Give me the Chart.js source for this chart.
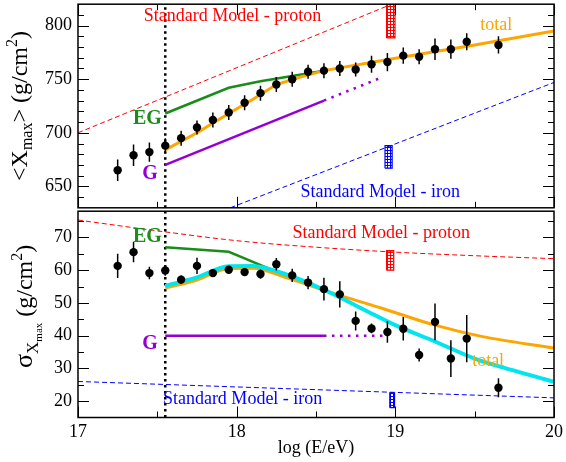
<!DOCTYPE html>
<html>
<head>
<meta charset="utf-8">
<script src="https://cdn.jsdelivr.net/npm/chart.js@4.4.1/dist/chart.umd.min.js"></script>
<style>
  html, body { margin: 0; padding: 0; background: #fff; }
  #wrap { position: relative; width: 566px; height: 462px; overflow: hidden; }
  canvas { position: absolute; left: 0; }
  #cTop { top: 0; }
  #cBot { top: 207px; }
</style>
</head>
<body>
<div id="wrap">
  <canvas id="cTop" width="566" height="212"></canvas>
  <canvas id="cBot" width="566" height="255"></canvas>
</div>
<script>
const FONT = '"Liberation Serif", "Times New Roman", serif';
const RED = "#ff0000", BLUE = "#0000ff", GREEN = "#1a8c1a", ORANGE = "#ffa500";
const CYAN = "#00e5ee", PURPLE = "#9400d3";

// =============================
// DATA
// =============================

// energy bins, log(E/eV)
const binsX = [17.25, 17.35, 17.45, 17.55, 17.65, 17.75, 17.85, 17.95, 18.05, 18.15, 18.25, 18.35,
               18.45, 18.55, 18.65, 18.75, 18.85, 18.95, 19.05, 19.15, 19.25, 19.35, 19.45, 19.65];

// <Xmax> measurements (g/cm2)
const xmaxMean = [665, 679, 682, 688, 695, 705, 712, 719, 728, 737, 745, 750,
                  757, 758, 760, 759, 764, 766, 772, 771, 778, 778, 785, 782];
const xmaxErr  = [10, 10, 9, 7, 7, 6.5, 7, 7, 7, 7, 7, 7,
                  6.5, 7, 7, 6.5, 8, 8.5, 7.5, 7, 10, 9, 8, 8];

// sigma(Xmax) measurements (g/cm2)
const sigmaMean = [61.3, 65.5, 59.1, 59.9, 57.1, 61.3, 59.1, 60.1, 59.4, 58.8, 61.8, 58.4,
                   56.2, 54.2, 52.6, 44.5, 42.2, 41.1, 42.1, 34.1, 44.2, 33.0, 39.1, 24.1];
const sigmaErr  = [3.7, 3.1, 1.9, 1.6, 1.3, 2.5, 1, 1, 1, 1.4, 1.9, 2,
                   2, 3.5, 4, 2.9, 1.5, 3.3, 3.6, 2, 5.6, 5.6, 7.2, 2.9];

// model curves, top panel
const protonTopX = [17, 19.0],  protonTopY = [700, 821.4];
const ironTopX = [17.96, 20],   ironTopY = [630, 747];
const egTopX = [17.55, 17.95, 18.15, 18.35, 18.55];
const egTopY = [718, 742, 748, 753, 758];
const totalTopX = [17.55, 17.75, 17.95, 18.1, 18.25, 18.4, 18.55, 19, 19.5, 20];
const totalTopY = [684, 700, 718, 731, 745, 752, 758, 769.5, 782, 795];
const gTopX = [17.55, 18.55],    gTopY = [670, 730];
const gTopDotX = [18.55, 18.92], gTopDotY = [730, 752];

// model curves, bottom panel
const protonBotX = [17, 17.5, 18, 18.5, 19, 19.5, 20];
const protonBotY = [75.3, 72, 69, 67, 65.5, 64.4, 63.5];
const ironBotX = [17, 20], ironBotY = [26, 21];
const egBotX = [17.55, 17.95, 18.05, 18.2, 18.3];
const egBotY = [67, 65.6, 63.6, 60.5, 58.8];
const cyanBotX = [17.55, 17.75, 17.95, 18.1, 18.3, 18.55, 18.8, 19, 19.25, 19.5, 19.75, 20];
const cyanBotY = [55.2, 57.8, 61.2, 61.3, 58.9, 54, 48, 43.2, 38.2, 33, 29.3, 25.9];
const totalBotX = [17.55, 17.75, 17.95, 18.1, 18.3, 18.65, 18.92, 19.25, 19.55, 20];
const totalBotY = [54.5, 57, 60.5, 60.6, 57.9, 52.3, 48.3, 43.2, 39.7, 36.2];
const gBotX = [17.55, 18.55],    gBotY = [40, 40];
const gBotDotX = [18.55, 18.92], gBotDotY = [40, 40];

// galactic / extragalactic transition energy
const ankleX = 17.55;

// systematic bands at 10^19 eV: [x0, x1, y0, y1]
const protonBandTop = [18.945, 18.998, 788.5, 820];
const ironBandTop   = [18.935, 18.98, 667, 688];
const protonBandBot = [18.945, 18.99, 60, 66];
const ironBandBot   = [18.965, 18.995, 18, 22.5];

// ticks
const xMajor = [17, 18, 19, 20], xMinor = [17.5, 18.5, 19.5];
const yTopMajor = [650, 700, 750, 800];
const yTopMinor = [640, 660, 670, 680, 690, 710, 720, 730, 740, 760, 770, 780, 790, 810];
const yBotMajor = [20, 30, 40, 50, 60, 70];
const yBotMinor = [25, 35, 45, 55, 65, 75];

// =============================
// HELPERS
// =============================

function pts(xs, ys) {
  return xs.map((x, i) => ({ x: x, y: ys[i] }));
}

function line(xs, ys, color, width, dash, smooth) {
  return {
    type: "line",
    data: pts(xs, ys),
    borderColor: color,
    borderWidth: width,
    borderDash: dash || [],
    borderCapStyle: "butt",
    pointRadius: 0,
    pointHoverRadius: 0,
    fill: false,
    cubicInterpolationMode: smooth ? "monotone" : "default",
    tension: 0,
  };
}

function errBars(xs, ys, es) {
  const d = [];
  xs.forEach((x, i) => {
    d.push({ x: x, y: ys[i] - es[i] }, { x: x, y: ys[i] + es[i] }, { x: x, y: NaN });
  });
  return {
    type: "line", data: d, borderColor: "#000", borderWidth: 1.5,
    pointRadius: 0, pointHoverRadius: 0, spanGaps: false, fill: false,
  };
}

function markers(xs, ys) {
  return {
    type: "scatter", data: pts(xs, ys), pointRadius: 4.2, pointHoverRadius: 4.2,
    pointBackgroundColor: "#000", pointBorderWidth: 0, showLine: false,
  };
}

function hatch(color) {
  const c = document.createElement("canvas");
  c.width = 3; c.height = 3;
  const g = c.getContext("2d");
  g.fillStyle = "#fff"; g.fillRect(0, 0, 3, 3);
  g.fillStyle = color; g.fillRect(0, 0, 3, 1); g.fillRect(0, 0, 1, 3);
  return g.createPattern(c, "repeat");
}

// hatched band = filled top edge + outline
function band(b, color) {
  const [x0, x1, y0, y1] = b;
  return [
    {
      type: "line", data: pts([x0, x1, x1, x0, x0], [y0, y0, y1, y1, y0]),
      borderColor: color, borderWidth: 1.2, pointRadius: 0, fill: false,
    },
    {
      type: "line", data: pts([x0, x1], [y1, y1]), borderWidth: 0, pointRadius: 0,
      backgroundColor: hatch(color), fill: { value: y0 },
    },
  ];
}

function drawRich(ctx, parts, baseX, cy) {
  ctx.save();
  ctx.translate(baseX, cy);
  ctx.rotate(-Math.PI / 2);
  ctx.fillStyle = "#000";
  ctx.textBaseline = "alphabetic";
  ctx.textAlign = "left";
  let total = 0;
  parts.forEach((p) => {
    ctx.font = p[1] + "px " + FONT;
    total += ctx.measureText(p[0]).width;
  });
  let x = -total / 2;
  parts.forEach((p) => {
    ctx.font = p[1] + "px " + FONT;
    ctx.fillText(p[0], x, p[2]);
    x += ctx.measureText(p[0]).width;
  });
  ctx.restore();
}

function framePlugin(cfg) {
  return {
    id: "frame" + cfg.name,
    afterDatasetsDraw(chart) {
      const ctx = chart.ctx, a = chart.chartArea;
      const xs = chart.scales.x, ys = chart.scales.y;
      ctx.save();

      cfg.labels.forEach((l) => {
        ctx.font = (l.bold ? "bold " : "") + l.size + "px " + FONT;
        ctx.fillStyle = l.color;
        ctx.textAlign = l.align;
        ctx.textBaseline = "middle";
        ctx.fillText(l.text, xs.getPixelForValue(l.x), ys.getPixelForValue(l.y));
      });

      ctx.strokeStyle = "#000";
      ctx.lineWidth = 1;
      const tick = (x1, y1, x2, y2) => {
        ctx.beginPath(); ctx.moveTo(x1, y1); ctx.lineTo(x2, y2); ctx.stroke();
      };
      const yt = (vals, len) => vals.forEach((v) => {
        const p = Math.round(ys.getPixelForValue(v)) + 0.5;
        tick(a.left, p, a.left + len, p);
        tick(a.right, p, a.right - len, p);
      });
      const xt = (vals, len) => vals.forEach((v) => {
        const p = Math.round(xs.getPixelForValue(v)) + 0.5;
        tick(p, a.bottom, p, a.bottom - len);
        if (cfg.topTicks) tick(p, a.top, p, a.top + len);
      });
      yt(cfg.yMajor, 11); yt(cfg.yMinor, 6);
      xt(xMajor, 11); xt(xMinor, 6);

      ctx.lineWidth = 1.5;
      ctx.strokeRect(a.left, a.top, a.right - a.left, a.bottom - a.top);

      drawRich(ctx, cfg.title, cfg.titleX, (a.top + a.bottom) / 2 + cfg.titleDy);
      ctx.restore();
    },
  };
}

function yAxis(min, max, major) {
  return {
    type: "linear", min: min, max: max,
    grid: { display: false, drawTicks: false },
    border: { display: false },
    ticks: { font: { family: FONT, size: 18 }, color: "#000", padding: 6 },
    afterBuildTicks: (s) => { s.ticks = major.map((v) => ({ value: v })); },
    afterFit: (s) => { s.width = 78; s.paddingTop = 0; s.paddingBottom = 0; },
  };
}

const common = {
  responsive: false,
  animation: false,
  events: [],
};

// =============================
// TOP PANEL
// =============================

new Chart(document.getElementById("cTop"), {
  type: "line",
  data: {
    datasets: [
      markers(binsX, xmaxMean),
      errBars(binsX, xmaxMean, xmaxErr),
      line(totalTopX, totalTopY, ORANGE, 3),
      line(egTopX, egTopY, GREEN, 2.5),
      line(gTopX, gTopY, PURPLE, 2.5),
      line(gTopDotX, gTopDotY, PURPLE, 2.5, [2.5, 5.5]),
      line([ankleX, ankleX], [630, 820], "#000", 2.5, [2.5, 3.5]),
      line(protonTopX, protonTopY, RED, 1, [5, 3]),
      line(ironTopX, ironTopY, BLUE, 1, [5, 3]),
      ...band(protonBandTop, RED),
      ...band(ironBandTop, BLUE),
    ],
  },
  options: {
    ...common,
    layout: { padding: { top: 2.5, bottom: 2.5, left: 0, right: 12 } },
    plugins: { legend: { display: false }, tooltip: { enabled: false } },
    scales: {
      x: { type: "linear", min: 17, max: 20, display: false },
      y: yAxis(630, 820, yTopMajor),
    },
  },
  plugins: [framePlugin({
    name: "Top", topTicks: true, yMajor: yTopMajor, yMinor: yTopMinor,
    title: [["<X", 24, 0], ["max", 16, 5], ["> (g/cm", 24, 0], ["2", 16, -10], [")", 24, 0]],
    titleX: 27, titleDy: 0,
    labels: [
      { text: "Standard Model - proton", x: 17.415, y: 809, color: RED, size: 18, align: "left" },
      { text: "total", x: 19.535, y: 800, color: ORANGE, size: 18, align: "left" },
      { text: "EG", x: 17.528, y: 712.7, color: GREEN, size: 20, bold: true, align: "right" },
      { text: "G", x: 17.503, y: 662, color: PURPLE, size: 20, bold: true, align: "right" },
      { text: "Standard Model - iron", x: 18.403, y: 644.7, color: BLUE, size: 18, align: "left" },
    ],
  })],
});

// =============================
// BOTTOM PANEL
// =============================

new Chart(document.getElementById("cBot"), {
  type: "line",
  data: {
    datasets: [
      markers(binsX, sigmaMean),
      errBars(binsX, sigmaMean, sigmaErr),
      line(cyanBotX, cyanBotY, CYAN, 4, null, true),
      line(totalBotX, totalBotY, ORANGE, 3, null, true),
      line(egBotX, egBotY, GREEN, 2.5),
      line(gBotX, gBotY, PURPLE, 2.5),
      line(gBotDotX, gBotDotY, PURPLE, 2.5, [2.5, 5.5]),
      line([ankleX, ankleX], [15, 78], "#000", 2.5, [2.5, 3.5]),
      line(protonBotX, protonBotY, RED, 1, [5, 3], true),
      line(ironBotX, ironBotY, BLUE, 1, [5, 3]),
      ...band(protonBandBot, RED),
      ...band(ironBandBot, BLUE),
    ],
  },
  options: {
    ...common,
    layout: { padding: { top: 2.5, bottom: 0, left: 0, right: 12 } },
    plugins: { legend: { display: false }, tooltip: { enabled: false } },
    scales: {
      x: {
        type: "linear", min: 17, max: 20,
        grid: { display: false, drawTicks: false },
        border: { display: false },
        ticks: { font: { family: FONT, size: 18 }, color: "#000", padding: 4 },
        afterBuildTicks: (s) => { s.ticks = xMajor.map((v) => ({ value: v })); },
        afterFit: (s) => { s.height = 44.5; s.paddingLeft = 0; s.paddingRight = 0; },
        title: {
          display: true, text: "log (E/eV)", color: "#000",
          font: { family: FONT, size: 18 }, padding: { top: 0, bottom: 3 },
        },
      },
      y: yAxis(15, 78, yBotMajor),
    },
  },
  plugins: [framePlugin({
    name: "Bot", topTicks: false, yMajor: yBotMajor, yMinor: yBotMinor,
    title: [["\u03c3", 26, 0], ["X", 17, 6], ["max", 11, 10], [" (g/cm", 24, 0], ["2", 16, -10], [")", 24, 0]],
    titleX: 32, titleDy: -8,
    labels: [
      { text: "EG", x: 17.528, y: 70.2, color: GREEN, size: 20, bold: true, align: "right" },
      { text: "G", x: 17.503, y: 37.5, color: PURPLE, size: 20, bold: true, align: "right" },
      { text: "Standard Model - proton", x: 18.352, y: 71.4, color: RED, size: 18, align: "left" },
      { text: "Standard Model - iron", x: 17.535, y: 20.5, color: BLUE, size: 18, align: "left" },
      { text: "total", x: 19.484, y: 32.3, color: ORANGE, size: 18, align: "left" },
    ],
  })],
});
</script>
</body>
</html>
